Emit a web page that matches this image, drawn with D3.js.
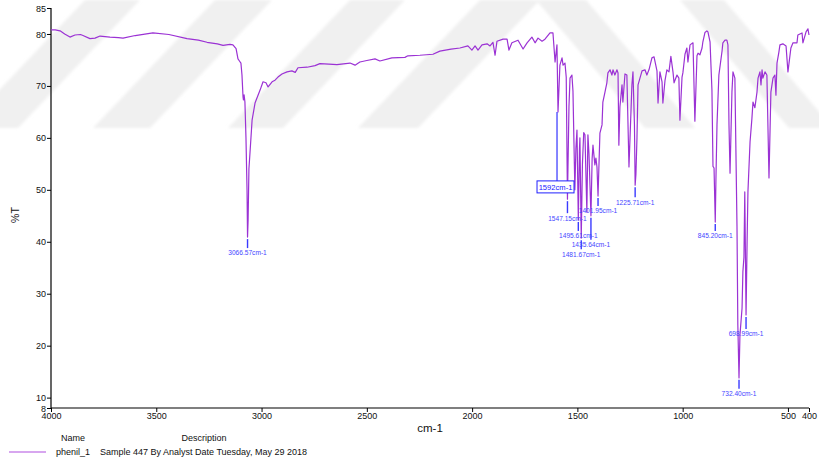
<!DOCTYPE html>
<html>
<head>
<meta charset="utf-8">
<script src="https://cdn.jsdelivr.net/npm/d3@7"></script>
<style>
  html, body { margin: 0; padding: 0; background: #fff; }
  svg { display: block; font-family: "Liberation Sans", Arial, sans-serif; }
</style>
</head>
<body>
<svg id="chart" width="819" height="464"></svg>
<script>
// IR spectrum of phenil_1: wavenumber (cm-1) and transmittance (%T)
const wavenumbers = [
  4000, 3980, 3957, 3935, 3910, 3886, 3860, 3848, 3815, 3791, 3767, 3720, 3680, 3658, 3600, 3516,
  3440, 3354, 3300, 3259, 3210, 3183, 3150, 3136, 3121, 3112, 3105, 3098, 3093, 3088, 3086, 3083,
  3079, 3074, 3069, 3066.57, 3064, 3060, 3055, 3045, 3031, 3007, 2993, 2979, 2969, 2950, 2936, 2922,
  2903, 2879, 2856, 2840, 2827, 2784, 2746, 2723, 2680, 2642, 2580, 2556, 2533, 2500, 2461, 2438,
  2381, 2319, 2305, 2248, 2186, 2153, 2100, 2058, 2020, 2001, 1986, 1972, 1953, 1929, 1915, 1901,
  1891, 1882, 1853, 1834, 1825, 1811, 1782, 1758, 1739, 1716, 1701, 1687, 1668, 1654, 1630, 1616,
  1606, 1597, 1592, 1583, 1573, 1568, 1559, 1553, 1547.15, 1540, 1535, 1526, 1521, 1512, 1507, 1502,
  1495.61, 1490, 1488, 1481.67, 1476, 1470, 1464, 1455, 1450, 1445, 1435.64, 1430, 1426, 1417, 1412, 1407,
  1401.95, 1393, 1383, 1379, 1369, 1360, 1355, 1345, 1336, 1331, 1322, 1312, 1307, 1303, 1298, 1288,
  1284, 1274, 1265, 1255, 1250, 1241, 1236, 1229, 1225.71, 1222, 1217, 1212, 1193, 1179, 1170, 1160,
  1146, 1136, 1122, 1117, 1108, 1098, 1094, 1084, 1075, 1065, 1056, 1046, 1041, 1027, 1018, 1013,
  1003, 999, 989, 980, 975, 965, 951, 942, 932, 927, 918, 908, 904, 894, 885, 880,
  870, 861, 856, 851, 845.2, 842, 837, 828, 813, 809, 799, 790, 785, 780, 775, 770,
  766, 761, 752, 742, 738, 732.4, 728, 718, 714, 709, 705, 702, 698.99, 694, 690, 680,
  671, 666, 657, 647, 642, 633, 628, 623, 619, 609, 600, 590, 581, 571, 562, 557,
  552, 543, 538, 524, 509, 500, 486, 476, 457, 453, 433, 429, 414, 405, 400
];
const transmittance = [
  80.8, 80.8, 80.6, 80.0, 79.4, 79.8, 79.9, 79.7, 79.1, 79.2, 79.6, 79.4, 79.3, 79.2, 79.7, 80.2,
  79.9, 79.1, 78.8, 78.4, 78.1, 77.8, 78.0, 77.9, 77.2, 75.2, 74.8, 74.4, 72.1, 67.9, 67.3, 68.3,
  66.9, 60.0, 50.0, 40.9, 44.0, 54.0, 57.1, 63.4, 66.7, 69.2, 70.8, 70.6, 69.8, 70.8, 71.1, 71.7,
  72.3, 72.7, 72.9, 72.6, 73.5, 73.6, 73.9, 74.3, 74.2, 74.1, 74.4, 74.0, 74.6, 74.9, 75.2, 74.8,
  75.4, 75.5, 75.8, 75.9, 76.1, 76.7, 77.1, 77.3, 77.7, 76.9, 77.7, 76.9, 77.9, 78.1, 77.7, 78.4,
  75.9, 78.6, 79.0, 79.0, 76.9, 78.3, 78.8, 77.1, 78.3, 79.4, 78.3, 79.2, 78.6, 79.0, 80.2, 80.2,
  74.6, 77.9, 65.0, 74.0, 75.4, 74.0, 74.4, 71.7, 48.2, 66.0, 71.5, 72.1, 69.0, 50.0, 58.0, 61.5,
  44.2, 58.0, 60.0, 40.7, 55.0, 61.0, 60.6, 45.7, 60.6, 57.0, 45.0, 56.0, 58.6, 54.8, 56.1, 54.4,
  48.8, 60.9, 62.5, 66.9, 68.8, 70.6, 72.5, 73.1, 72.1, 73.1, 72.1, 73.1, 72.5, 58.6, 66.0, 70.2,
  66.9, 72.3, 72.1, 54.4, 60.0, 70.2, 72.7, 62.5, 50.9, 53.0, 60.0, 70.2, 72.9, 73.1, 72.1, 73.1,
  75.4, 75.6, 72.9, 66.7, 72.7, 70.8, 66.7, 71.0, 73.1, 72.7, 75.7, 72.7, 70.6, 72.1, 71.5, 63.4,
  71.7, 72.5, 76.1, 77.3, 74.6, 77.9, 78.3, 63.2, 75.8, 76.3, 76.0, 77.3, 78.5, 80.3, 80.6, 80.4,
  78.5, 69.2, 54.5, 54.2, 43.8, 52.0, 62.5, 72.1, 76.7, 78.3, 78.8, 78.8, 77.9, 62.5, 53.2, 62.0,
  68.8, 72.7, 71.5, 43.0, 24.0, 13.8, 22.0, 27.2, 34.2, 37.0, 49.6, 38.0, 25.9, 40.0, 49.6, 59.2,
  63.8, 66.9, 65.8, 68.8, 71.5, 72.7, 70.2, 73.1, 71.5, 72.7, 72.1, 52.3, 68.8, 71.5, 72.1, 68.2,
  74.4, 76.5, 77.9, 78.1, 77.7, 72.7, 77.3, 78.3, 78.3, 79.8, 80.2, 78.3, 80.4, 81.0, 79.8
];

// Axis ticks
const xTicks = [4000, 3500, 3000, 2500, 2000, 1500, 1000, 500, 400];
const yTicks = [8, 10, 20, 30, 40, 50, 60, 70, 80, 85];

// Annotated peaks
const peakWavenumbers = [3066.57, 1547.15, 1495.61, 1481.67, 1435.64, 1401.95, 1225.71, 845.20, 732.40, 698.99];
const peakTransmittance = [40.9, 48.2, 44.2, 40.7, 45.0, 48.8, 50.9, 43.8, 13.8, 25.9];
const peakLabels = ["3066.57cm-1", "1547.15cm-1", "1495.61cm-1", "1481.67cm-1", "1435.64cm-1",
                    "1401.95cm-1", "1225.71cm-1", "845.20cm-1", "732.40cm-1", "698.99cm-1"];

// Boxed marker
const markerWavenumber = 1592;
const markerTransmittance = 65.0;
const markerLabel = "1592cm-1";

// Legend
const seriesName = "phenil_1";
const seriesDescription = "Sample 447 By Analyst Date Tuesday, May 29 2018";

const svg = d3.select("#chart");

const x = d3.scaleLinear().domain([4000, 400]).range([51, 809]);
const y = d3.scaleLinear().domain([8, 85]).range([408, 8]);

// faint diagonal watermark bands behind the plot
const defs = svg.append("defs");
defs.append("filter").attr("id", "soft").attr("x", "-10%").attr("y", "-10%")
  .attr("width", "120%").attr("height", "120%")
  .append("feGaussianBlur").attr("stdDeviation", 1.6);
const bands = [
  [[85, 0], [140, 0], [18, 128], [-37, 128]],
  [[215, 0], [272, 0], [150, 128], [93, 128]],
  [[350, 0], [405, 0], [283, 128], [228, 128]],
  [[480, 0], [540, 0], [418, 128], [358, 128]],
  [[536, 0], [586, 0], [695, 128], [645, 128]],
  [[680, 0], [724, 0], [833, 128], [789, 128]]
];
svg.append("g").attr("filter", "url(#soft)")
  .selectAll("polygon").data(bands).join("polygon")
  .attr("points", d => d.map(p => p.join(",")).join(" "))
  .attr("fill", "#f0f0f0");

// axes
const yAxis = d3.axisLeft(y).tickValues(yTicks).tickSize(4).tickPadding(1).tickFormat(d3.format("d"));
const gy = svg.append("g").attr("transform", "translate(51,0)").call(yAxis);
const xAxis = d3.axisBottom(x).tickValues(xTicks).tickSize(4).tickPadding(1).tickFormat(d3.format("d"));
const gx = svg.append("g").attr("transform", "translate(0,408)").call(xAxis);
[gx, gy].forEach(g => {
  g.select(".domain").attr("stroke", "#000").attr("stroke-width", 1.2);
  g.selectAll(".tick line").attr("stroke", "#000");
  g.selectAll(".tick text").attr("fill", "#111").style("font-size", "9px")
    .style("font-family", "'Liberation Sans', Arial, sans-serif");
});
gy.select(".domain").attr("d", "M-0,8V408");
gx.select(".domain").attr("d", "M51,0H809");
gy.selectAll(".tick text").attr("dy", "0.34em");

// axis titles
svg.append("text").attr("x", 430).attr("y", 432).attr("text-anchor", "middle")
  .style("font-size", "11.5px").attr("fill", "#111").text("cm-1");
svg.append("text").attr("transform", "translate(19,215) rotate(-90)").attr("text-anchor", "middle")
  .style("font-size", "10.5px").attr("fill", "#111").text("%T");

// spectrum trace
const pts = wavenumbers.map((w, i) => [w, transmittance[i]]);
svg.append("path").datum(pts)
  .attr("fill", "none").attr("stroke", "#9b32d4").attr("stroke-width", 1.2)
  .attr("stroke-linejoin", "round")
  .attr("d", d3.line().x(d => x(d[0])).y(d => y(d[1])));

// peak annotations
const labelDrop = [16, 19, 16, 16, 29, 15, 17, 14, 16, 19];
const blue = "#4646ff";
const pk = svg.append("g");
peakWavenumbers.forEach((w, i) => {
  const px = x(w), py = y(peakTransmittance[i]);
  const ly = py + labelDrop[i];
  pk.append("line").attr("x1", px).attr("x2", px).attr("y1", py + 2).attr("y2", ly - 5)
    .attr("stroke", "#3a3aff").attr("stroke-width", 1.4);
  pk.append("text").attr("x", px).attr("y", ly + 2.4).attr("text-anchor", "middle")
    .style("font-size", "6.6px").attr("fill", blue).text(peakLabels[i]);
});

// boxed marker
const mx = x(markerWavenumber), my = y(markerTransmittance);
const boxCx = mx - 2.5, boxTop = my + 69;
pk.append("line").attr("x1", mx - 1).attr("x2", mx - 1).attr("y1", my).attr("y2", boxTop)
  .attr("stroke", "#2020ff").attr("stroke-width", 1.1);
pk.append("rect").attr("x", boxCx - 18.5).attr("y", boxTop).attr("width", 37).attr("height", 12)
  .attr("fill", "#fff").attr("stroke", "#2020ff").attr("stroke-width", 1);
pk.append("text").attr("x", boxCx).attr("y", boxTop + 9).attr("text-anchor", "middle")
  .style("font-size", "7.6px").attr("fill", "#2020ff").text(markerLabel);

// legend
const lg = svg.append("g").style("font-size", "9px").attr("fill", "#111");
lg.append("text").attr("x", 73).attr("y", 441).attr("text-anchor", "middle").text("Name");
lg.append("text").attr("x", 204).attr("y", 441).attr("text-anchor", "middle").text("Description");
lg.append("line").attr("x1", 9).attr("x2", 46).attr("y1", 452).attr("y2", 452)
  .attr("stroke", "#b04ee0").attr("stroke-width", 1.2);
lg.append("text").attr("x", 56).attr("y", 455).text(seriesName);
lg.append("text").attr("x", 100).attr("y", 455).text(seriesDescription);
</script>
</body>
</html>
